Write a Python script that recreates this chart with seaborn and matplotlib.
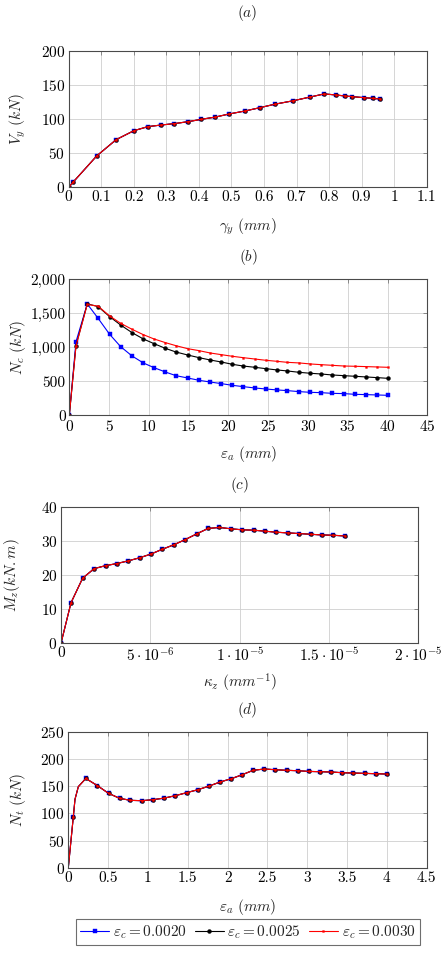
import numpy as np
import pandas as pd
import matplotlib
matplotlib.use("Agg")
import matplotlib.pyplot as plt
import matplotlib.ticker as mticker
from matplotlib.lines import Line2D
import seaborn as sns

# ---------------- data ----------------
# (a) shear
a_x = [0, 0.014, 0.086, 0.146, 0.200, 0.243, 0.284, 0.324, 0.367, 0.408, 0.450, 0.493,
       0.542, 0.588, 0.634, 0.690, 0.742, 0.785, 0.821, 0.848, 0.872, 0.908, 0.934, 0.957]
a_y = [0, 7.8, 46, 70, 83, 89, 91.4, 93.4, 96.3, 99.8, 103, 107.6,
       112, 116.9, 122, 127, 132.5, 137, 135.5, 134, 133, 131.5, 130.5, 129.6]

# (b) compression, three curves
b_x = [0, 0.84, 2.26, 3.62, 5.07, 6.45, 7.88, 9.30, 10.64, 12.07, 13.40, 14.87, 16.30,
       17.68, 19.10, 20.49, 21.83, 23.30, 24.70, 26.10, 27.40, 28.90, 30.30, 31.60,
       33.05, 34.50, 35.86, 37.30, 38.70, 40.00]
b_y20 = [0, 1083, 1637, 1426, 1191, 1010, 873, 770, 701, 637, 583, 549, 515,
         490, 466, 441, 422, 402, 387, 373, 363, 348, 338, 333,
         323, 319, 309, 304, 299, 294]
b_y25 = [0, 1024, 1640, 1598, 1451, 1328, 1216, 1123, 1054, 985, 931, 887, 848,
         814, 784, 750, 725, 706, 686, 667, 652, 632, 618, 608,
         593, 583, 574, 564, 554, 544]
b_y30 = [0, 1020, 1630, 1605, 1461, 1353, 1265, 1186, 1123, 1069, 1024, 980, 951,
         917, 892, 868, 848, 828, 809, 794, 779, 770, 755, 745,
         735, 725, 721, 716, 711, 706]

# (c) moment-curvature
c_x = [0, 0.56e-6, 1.21e-6, 1.85e-6, 2.50e-6, 3.13e-6, 3.77e-6, 4.40e-6, 5.04e-6,
       5.67e-6, 6.31e-6, 6.94e-6, 7.59e-6, 8.23e-6, 8.86e-6, 9.51e-6, 10.15e-6,
       10.78e-6, 11.42e-6, 12.05e-6, 12.70e-6, 13.34e-6, 13.97e-6, 14.60e-6,
       15.24e-6, 15.90e-6]
c_y = [0, 11.9, 19.1, 21.9, 22.8, 23.4, 24.2, 25.1, 26.2, 27.6, 28.9, 30.4, 32.1,
       33.7, 34.0, 33.6, 33.3, 33.2, 32.9, 32.6, 32.4, 32.2, 32.0, 31.8, 31.7, 31.5]

# (d) tension
d_x = [0, 0.063, 0.084, 0.126, 0.22, 0.364, 0.506, 0.645, 0.78, 0.925, 1.063, 1.206,
       1.344, 1.486, 1.628, 1.766, 1.905, 2.047, 2.185, 2.32, 2.46, 2.60, 2.74,
       2.88, 3.02, 3.16, 3.30, 3.44, 3.58, 3.72, 3.86, 4.00]
d_y = [0, 93.7, 125.7, 149, 164, 151, 136.6, 127.5, 123.8, 123.2, 125, 128,
       132.4, 137.9, 143.4, 150, 157.5, 163.6, 171, 179, 181.4, 180.1, 179,
       178.3, 177, 176.5, 175.9, 174.6, 174, 173.4, 172.8, 172.2]
d_marks = [i for i in range(len(d_x)) if i not in (0, 2, 3)]

labels = [r"$\varepsilon_c = 0.0020$", r"$\varepsilon_c = 0.0025$", r"$\varepsilon_c = 0.0030$"]
colors = ["#0000ff", "#000000", "#ff0000"]
markers = ["s", "o", "s"]
msizes = [2.4, 2.8, 1.3]

# ---------------- style ----------------
sns.set_style("whitegrid")
plt.rcParams.update({
    "font.family": "serif",
    "font.serif": ["cmr10", "DejaVu Serif"],
    "mathtext.fontset": "cm",
    "axes.formatter.use_mathtext": True,
    "font.size": 11,
    "axes.edgecolor": "#4a4a4a",
    "axes.linewidth": 0.8,
    "grid.color": "#cfcfcf",
    "grid.linewidth": 0.6,
    "xtick.direction": "in",
    "ytick.direction": "in",
})

fig = plt.figure(figsize=(4.44, 9.59), dpi=100)
W, H = 444.0, 959.0
FS = 11


def mk_ax(l, r, t, b):
    return fig.add_axes([l / W, 1 - b / H, (r - l) / W, (b - t) / H])


def style_ax(ax, ylab_center_px):
    ax.grid(True)
    ax.tick_params(axis="both", which="major", length=3, width=0.6,
                   color="#7a7a7a", labelsize=FS, top=True, right=True,
                   pad=2.5, labelcolor="black")
    for s in ax.spines.values():
        s.set_visible(True)
        s.set_color("#4a4a4a")
        s.set_linewidth(0.8)
    bb = ax.get_position()
    wpx, hpx = bb.width * W, bb.height * H
    lpx = bb.x0 * W
    ax.yaxis.set_label_coords((ylab_center_px + 13 - lpx) / wpx, 0.5)
    ax.xaxis.set_label_coords(0.5, -29.0 / hpx)


def draw_three(ax, x, ys, markevery=None):
    for y, c, m, ms, lab in zip(ys, colors, markers, msizes, labels):
        df = pd.DataFrame({"x": x, "y": y})
        sns.lineplot(data=df, x="x", y="y", ax=ax, color=c, marker=m, markersize=ms,
                     markeredgewidth=0.3, markeredgecolor=c, linewidth=0.8,
                     sort=False, estimator=None, markevery=markevery, legend=False)


def title(ax, txt, ypix):
    bb = ax.get_position()
    fig.text((bb.x0 + bb.x1) / 2, 1 - ypix / H, txt, ha="center", va="center", fontsize=FS)


# (a)
axa = mk_ax(68.7, 426.7, 51, 187.3)
draw_three(axa, a_x, [a_y, a_y, a_y])
axa.set_xlim(0, 1.1)
axa.set_ylim(0, 200)
axa.set_xticks(np.arange(0, 1.11, 0.1))
axa.set_xticklabels(["0", "0.1", "0.2", "0.3", "0.4", "0.5", "0.6", "0.7", "0.8", "0.9", "1", "1.1"])
axa.set_yticks([0, 50, 100, 150, 200])
axa.set_xlabel(r"$\gamma_y\ (mm)$", fontsize=FS)
axa.set_ylabel(r"$V_y\ (kN)$", fontsize=FS)
style_ax(axa, 15)
title(axa, r"$(a)$", 13)

# (b)
axb = mk_ax(69.3, 427.3, 279.3, 415.3)
draw_three(axb, b_x, [b_y20, b_y25, b_y30])
axb.set_xlim(0, 45)
axb.set_ylim(0, 2000)
axb.set_xticks(np.arange(0, 46, 5))
axb.set_yticks([0, 500, 1000, 1500, 2000])
axb.yaxis.set_major_formatter(mticker.FuncFormatter(lambda v, p: f"{int(v):,}"))
axb.set_xlabel(r"$\varepsilon_a\ (mm)$", fontsize=FS)
axb.set_ylabel(r"$N_c\ (kN)$", fontsize=FS)
style_ax(axb, 15)
title(axb, r"$(b)$", 257)

# (c)
axc = mk_ax(61, 418.3, 507, 643.3)
draw_three(axc, c_x, [c_y, c_y, c_y])
axc.set_xlim(0, 2e-5)
axc.set_ylim(0, 40)
axc.set_xticks([0, 5e-6, 1e-5, 1.5e-5, 2e-5])
axc.set_xticklabels(["0", r"$5\cdot10^{-6}$", r"$1\cdot10^{-5}$", r"$1.5\cdot10^{-5}$", r"$2\cdot10^{-5}$"])
axc.set_yticks([0, 10, 20, 30, 40])
axc.set_xlabel(r"$\kappa_z\ (mm^{-1})$", fontsize=FS)
axc.set_ylabel(r"$M_z(kN.m)$", fontsize=FS)
style_ax(axc, 9.5)
title(axc, r"$(c)$", 485)

# (d)
axd = mk_ax(68.3, 426.7, 731.7, 867.7)
draw_three(axd, d_x, [d_y, d_y, d_y], markevery=d_marks)
axd.set_xlim(0, 4.5)
axd.set_ylim(0, 250)
axd.set_xticks(np.arange(0, 4.51, 0.5))
axd.set_xticklabels(["0", "0.5", "1", "1.5", "2", "2.5", "3", "3.5", "4", "4.5"])
axd.set_yticks([0, 50, 100, 150, 200, 250])
axd.set_xlabel(r"$\varepsilon_a\ (mm)$", fontsize=FS)
axd.set_ylabel(r"$N_t\ (kN)$", fontsize=FS)
style_ax(axd, 15)
title(axd, r"$(d)$", 710)

# legend
handles = [Line2D([0], [0], color=c, marker=m, markersize=ms, linewidth=0.8,
                  markeredgewidth=0.3)
           for c, m, ms in zip(colors, markers, msizes)]
leg = fig.legend(handles, labels, loc="center", ncol=3,
                 bbox_to_anchor=((79 + 416.7) / 2 / W, 1 - 932 / H),
                 fontsize=FS, frameon=True, fancybox=False, handlelength=1.9,
                 handletextpad=0.25, columnspacing=0.5, borderpad=0.3,
                 borderaxespad=0.0)
leg.get_frame().set_edgecolor("#4a4a4a")
leg.get_frame().set_linewidth(0.8)

fig.savefig("out.png", dpi=100)
